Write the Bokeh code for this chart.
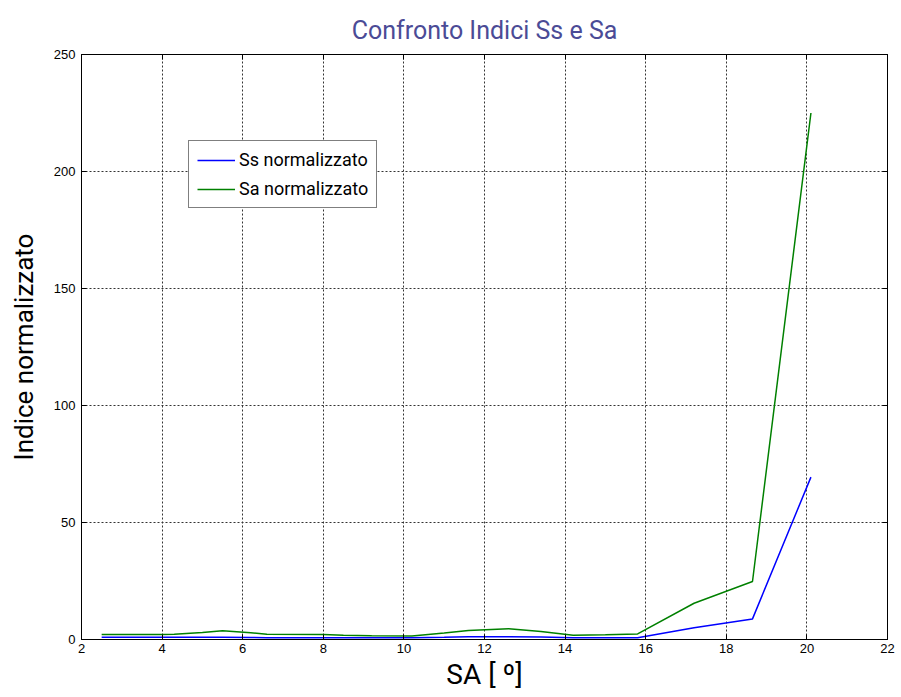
from bokeh.plotting import figure
from bokeh.models import Range1d, LinearAxis, FixedTicker, Legend, LegendItem
from bokeh.embed import file_html
from bokeh.resources import INLINE

# Data
sa_deg = [2.5, 4.0, 4.3, 5.0, 5.5, 6.2, 6.6, 8.0, 8.5, 9.2, 10.2, 11.0, 11.6, 12.6, 13.4, 14.2, 15.0, 15.8, 17.2, 18.65, 20.1]
ss_norm = [1.0, 1.0, 1.0, 1.0, 1.0, 0.9, 0.8, 0.8, 0.8, 0.8, 0.8, 1.0, 1.2, 1.2, 1.1, 0.7, 0.7, 0.7, 5.0, 8.8, 69.4]
sa_norm = [2.1, 2.1, 2.2, 3.0, 3.7, 2.9, 2.2, 2.1, 1.8, 1.6, 1.5, 2.8, 3.8, 4.6, 3.4, 1.8, 2.0, 2.4, 15.5, 24.8, 225.0]

x_ticks = [2, 4, 6, 8, 10, 12, 14, 16, 18, 20, 22]
y_ticks = [0, 50, 100, 150, 200, 250]

title_text = "Confronto Indici Ss e Sa"
x_label = "SA [ º]"
y_label = "Indice normalizzato"
series_names = ["Ss normalizzato", "Sa normalizzato"]

COND = "Roboto"

p = figure(width=901, height=697, output_backend="svg", toolbar_location=None,
           x_range=Range1d(2, 22), y_range=Range1d(0, 250),
           min_border_left=81, min_border_right=14, min_border_top=54, min_border_bottom=58,
           background_fill_color="white", border_fill_color="white")
p.outline_line_color = "black"
p.outline_line_width = 1

p.title.text = title_text
p.title.text_font = COND
p.title.text_font_size = "25px"
p.title.text_font_style = "normal"
p.title.text_color = "#4B4B96"
p.title.align = "center"
p.title.offset = 0
p.title.standoff = 19

for ax in p.xaxis + p.yaxis:
    ax.major_label_text_font = "Liberation Sans"
    ax.major_label_text_font_size = "13px"
    ax.major_label_text_color = "black"
    ax.axis_line_color = "black"
    ax.major_tick_in = 5
    ax.major_tick_out = 0
    ax.minor_tick_line_color = None
    ax.axis_label_text_font = COND
    ax.axis_label_text_font_style = "normal"
    ax.axis_label_text_color = "black"

p.xaxis.axis_label_text_font_size = "28px"
p.yaxis.axis_label_text_font_size = "26px"
p.xaxis.ticker = FixedTicker(ticks=x_ticks)
p.yaxis.ticker = FixedTicker(ticks=y_ticks)
p.xaxis.axis_label = x_label
p.yaxis.axis_label = y_label
p.xaxis.major_label_standoff = 4
p.yaxis.major_label_standoff = 6
p.xaxis.axis_label_standoff = 2
p.yaxis.axis_label_standoff = 12

top = LinearAxis(ticker=FixedTicker(ticks=x_ticks), major_label_overrides={t: "" for t in x_ticks},
                 major_tick_in=5, major_tick_out=0, minor_tick_line_color=None, axis_line_color="black")
right = LinearAxis(ticker=FixedTicker(ticks=y_ticks), major_label_overrides={t: "" for t in y_ticks},
                   major_tick_in=5, major_tick_out=0, minor_tick_line_color=None, axis_line_color="black")
p.add_layout(top, "above")
p.add_layout(right, "right")

p.xgrid.ticker = FixedTicker(ticks=x_ticks)
p.ygrid.ticker = FixedTicker(ticks=y_ticks)
for g in (p.xgrid, p.ygrid):
    g.grid_line_color = "#333333"
    g.grid_line_dash = "2 2"
    g.grid_line_width = 1

r1 = p.line(sa_deg, ss_norm, line_color="#0000FF", line_width=1.5)
r2 = p.line(sa_deg, sa_norm, line_color="#008000", line_width=1.5)

legend = Legend(items=[LegendItem(label=series_names[0], renderers=[r1]),
                       LegendItem(label=series_names[1], renderers=[r2])],
                location=(107, 431))
legend.label_text_font = COND
legend.label_text_font_size = "18px"
legend.label_text_color = "black"
legend.border_line_color = "black"
legend.border_line_width = 1
legend.background_fill_alpha = 1
legend.glyph_width = 38
legend.spacing = 8
legend.padding = 8
legend.margin = 0
legend.label_standoff = 4
p.add_layout(legend, "center")

open("out.html", "w").write(file_html(p, INLINE))
